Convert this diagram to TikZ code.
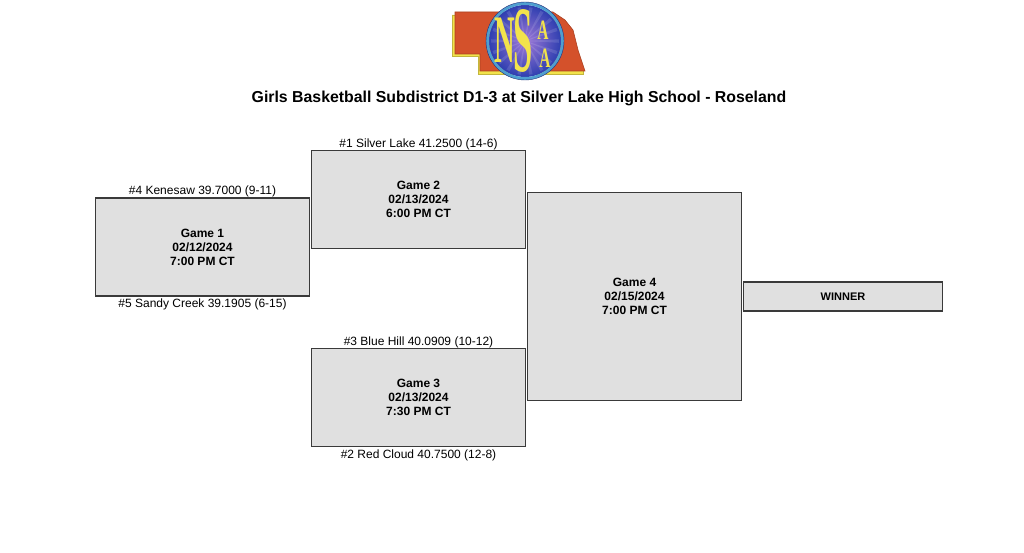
\documentclass[tikz,border=0pt]{standalone}
\usepackage{fontspec}
\usepackage{xcolor}
\setmainfont{Liberation Sans}
\newfontfamily\logofont{Liberation Serif}
\usetikzlibrary{positioning}
\definecolor{boxgray}{HTML}{E0E0E0}
\definecolor{boxline}{HTML}{3A3A3A}
\definecolor{staterust}{HTML}{D4512B}
\definecolor{logoyellow}{HTML}{F2E34C}
\definecolor{logoblue}{HTML}{2F3FB0}
\definecolor{logopurple}{HTML}{A07AD8}
\definecolor{logoring}{HTML}{4F9FD0}

\begin{document}
\begin{tikzpicture}[x=1pt,y=-1pt]
\tikzset{gamebox/.style={draw=boxline,fill=boxgray,line width=1.05pt,minimum width=214.5pt,inner sep=0pt,outer sep=0pt,align=center,font=\fontsize{12}{14}\selectfont\bfseries}}
\tikzset{teamlabel/.style={inner sep=0pt,font=\fontsize{12}{14}\selectfont}}
\tikzset{logoletter/.style={inner sep=0pt,text=logoyellow,font=\logofont\bfseries}}
\useasboundingbox (0,0) rectangle (1024,553);

\draw[fill=logoyellow,draw=logoyellow!80!black,line width=0.3pt] (452,15) -- (456,15) -- (456,53) -- (481,53) -- (481,70) -- (583,70) -- (583,74.5) -- (478,74.5) -- (478,56.5) -- (452,56.5) -- cycle;
\draw[fill=staterust,draw=staterust!80!black,line width=0.6pt] (455,12) -- (553,12) -- (565,20) -- (573,30) -- (578,50) -- (585,71) -- (480,71) -- (480,54) -- (455,54) -- cycle;
\shade[inner color=logopurple,outer color=logoblue] (525,41) circle (36pt);
\foreach \ang in {0,20,...,340} {
  \fill[white,opacity=0.12] (525,41) -- ++(\ang-3:34pt) -- ++(\ang+90:3.5pt) -- cycle;
}
\draw[draw=logoring,line width=3pt] (525,41) circle (37.5pt);
\draw[draw=logoblue!70!black,line width=0.4pt] (525,41) circle (39pt);
\node[logoletter,xscale=0.42] (logon) at (504.5,40) {\fontsize{68}{68}\selectfont N};
\node[logoletter,xscale=0.48,yscale=1.3] (logos) at (523,41) {\fontsize{72}{72}\selectfont S};
\node[logoletter,xscale=0.55] (logoa) at (543,30.5) {\fontsize{28}{28}\selectfont A};
\node[logoletter,xscale=0.55] (logob) at (545,58) {\fontsize{28}{28}\selectfont A};

\node[font=\fontsize{15.85}{18}\selectfont\bfseries,inner sep=0pt] (title) at (519,98) {Girls Basketball Subdistrict D1-3 at Silver Lake High School - Roseland};

\node[gamebox,minimum height=98pt] (game1) at (202.5,247) {Game 1\\02/12/2024\\7:00 PM CT};
\node[gamebox,minimum height=98pt] (game2) at (418.5,199.7) {Game 2\\02/13/2024\\6:00 PM CT};
\node[gamebox,minimum height=98pt] (game3) at (418.5,397.7) {Game 3\\02/13/2024\\7:30 PM CT};
\node[gamebox,minimum height=207.5pt] (game4) at (634.5,296.7) {Game 4\\02/15/2024\\7:00 PM CT};
\node[gamebox,minimum width=199.5pt,minimum height=29pt,font=\fontsize{11}{13}\selectfont\bfseries] (winner) at (843,296.5) {WINNER};

\node[teamlabel,above=1pt of game1] (team4) {\#4 Kenesaw 39.7000 (9-11)};
\node[teamlabel,below=3pt of game1] (team5) {\#5 Sandy Creek 39.1905 (6-15)};
\node[teamlabel,above=1pt of game2] (team1) {\#1 Silver Lake 41.2500 (14-6)};
\node[teamlabel,above=1pt of game3] (team3) {\#3 Blue Hill 40.0909 (10-12)};
\node[teamlabel,below=3pt of game3] (team2) {\#2 Red Cloud 40.7500 (12-8)};
\end{tikzpicture}
\end{document}
